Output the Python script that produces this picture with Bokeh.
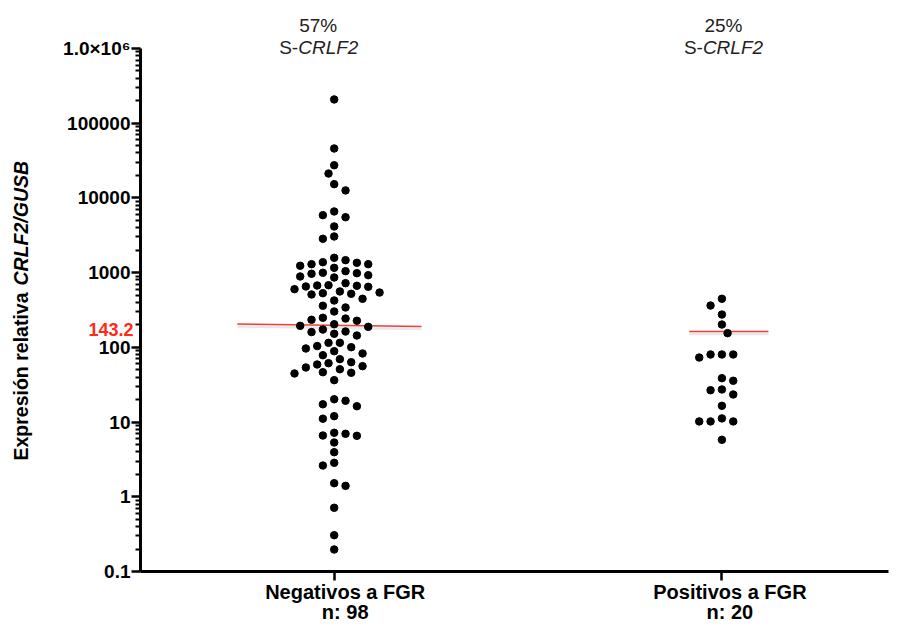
import numpy as np
from bokeh.plotting import figure
from bokeh.models import Range1d, FixedTicker, Label
from bokeh.embed import file_html
from bokeh.resources import INLINE

# ---------------- data ----------------
groups = ["Negativos a FGR", "Positivos a FGR"]
group_n = ["n: 98", "n: 20"]
group_pct = ["57%", "25%"]

neg_values = [
    208000, 45900, 27400, 21200, 15300, 12600, 6590, 5880, 5520, 4150, 3050, 2840,
    1580, 1470, 1380, 1355, 1298, 1298, 1236, 1161,
    1047, 996, 984, 966, 925, 889, 861,
    723, 679, 673, 667, 653, 647, 601,
    560, 542, 531, 521, 510,
    447, 424,
    360, 342, 302,
    249, 243, 234, 227, 204, 194, 188,
    173, 163, 160, 152, 144,
    115, 115, 104, 100.5, 96.6, 88.9, 82.8, 78.5,
    69.5, 63.3, 61.4, 59.0, 56.0, 53.8, 51.0,
    46.5, 45.7, 44.7, 36.4,
    20.2, 19.3, 17.3, 16.3,
    12.0, 11.1, 7.19, 6.97, 6.61, 6.55, 5.33, 3.95, 2.85, 2.62,
    1.52, 1.40, 0.713, 0.306, 0.197,
]
pos_values = [
    447, 363, 275, 202, 155,
    80.3, 80.3, 80.3, 73.1,
    38.7, 35.7, 27.3, 26.7, 23.4,
    16.5,
    11.2, 10.2, 10.2, 10.2,
    5.79,
]
median_start = [205, 163]
median_end = [190, 163]
median_label = "143.2"

y_ticks = [0.1, 1, 10, 100, 1000, 10000, 100000, 1000000]
y_tick_labels = ["0.1", "1", "10", "100", "1000", "10000", "100000", "1.0\u00d710\u2076"]

# ---------------- layout (canvas = frame; axes pinned with fixed_location) ----------------
W, H = 906, 624
AX_LEFT, AX_RIGHT = 140, 888      # pixel extents of the x axis line
AX_TOP, AX_BOTTOM = 48, 571       # pixel extents of the y axis line
CAT1_PX, PX_X = 333.7, 387.7      # pixel of category 1, pixels per category unit
Y_MIN, Y_MAX = 0.1, 1e6
PX_DEC = (AX_BOTTOM - AX_TOP) / (np.log10(Y_MAX) - np.log10(Y_MIN))
x_start = 1 - CAT1_PX / PX_X
x_end = x_start + W / PX_X
y_lo = 10 ** (np.log10(Y_MIN) - (H - AX_BOTTOM) / PX_DEC)
y_hi = 10 ** (np.log10(Y_MAX) + AX_TOP / PX_DEC)
x_axis_lo = x_start + AX_LEFT / PX_X
x_axis_hi = x_start + AX_RIGHT / PX_X
FONT = "Liberation Sans"


def swarm(vals, step=5.67, dist=9.5):
    ys = np.log10(np.asarray(vals, dtype=float)) * PX_DEC
    order = np.argsort(-ys)
    placed = []
    offs = np.zeros(len(ys))
    flip = False
    for i in order:
        k = 0
        done = False
        while not done:
            cands = [0] if k == 0 else ([k, -k] if flip else [-k, k])
            for c in cands:
                ox = c * step
                if all((ox - px) ** 2 + (ys[i] - py) ** 2 >= dist ** 2 for px, py in placed):
                    offs[i] = ox
                    placed.append((ox, ys[i]))
                    if c != 0:
                        flip = not flip
                    done = True
                    break
            k += 1
    return offs


p = figure(width=W, height=H, x_range=Range1d(x_start, x_end), y_range=Range1d(y_lo, y_hi),
           y_axis_type="log", output_backend="svg", toolbar_location=None,
           min_border_left=0, min_border_right=0, min_border_top=0, min_border_bottom=0)
p.title.visible = False
p.outline_line_color = None
p.xgrid.grid_line_color = None
p.ygrid.grid_line_color = None
p.background_fill_color = "white"

# y axis
minor = [m * 10.0 ** e for e in range(-1, 6) for m in range(2, 10)]
p.yaxis.fixed_location = x_axis_lo
p.yaxis.bounds = (Y_MIN, Y_MAX)
p.yaxis.ticker = FixedTicker(ticks=y_ticks, minor_ticks=minor)
p.yaxis.major_label_overrides = {float(t): l for t, l in zip(y_ticks, y_tick_labels)}
p.yaxis.axis_line_width = 3
p.yaxis.major_tick_line_width = 2.5
p.yaxis.major_tick_out = 9
p.yaxis.major_tick_in = 0
p.yaxis.minor_tick_out = 5
p.yaxis.minor_tick_in = 0
p.yaxis.minor_tick_line_width = 1.8
p.yaxis.major_label_standoff = 1
p.yaxis.major_label_text_font = FONT
p.yaxis.major_label_text_font_style = "bold"
p.yaxis.major_label_text_font_size = "19px"
p.yaxis.major_label_text_color = "black"

# x axis (category names drawn as labels below, slightly offset as in the original)
p.xaxis.fixed_location = Y_MIN
p.xaxis.bounds = (x_axis_lo, x_axis_hi)
p.xaxis.ticker = FixedTicker(ticks=[1, 2])
p.xaxis.major_label_overrides = {1: "", 2: ""}
p.xaxis.axis_line_width = 3
p.xaxis.major_tick_line_width = 2.5
p.xaxis.major_tick_out = 9
p.xaxis.major_tick_in = 0
p.xaxis.minor_tick_line_color = None

# median lines
x_lo = [1 - 0.25, 2 - 0.084]
x_hi = [1 + 0.225, 2 + 0.12]
shadow = 10 ** (-2.5 / PX_DEC)
p.segment(x0=x_lo, x1=x_hi, y0=[v * shadow for v in median_start], y1=[v * shadow for v in median_end],
          line_color="#d8d8d8", line_width=2.5, line_alpha=0.6)
p.segment(x0=x_lo, x1=x_hi, y0=median_start, y1=median_end, line_color="#f03c32", line_width=1.6)

# dots
for gi, vals in enumerate([neg_values, pos_values]):
    offs = swarm(vals)
    xs = (gi + 1) + offs / PX_X
    p.scatter(x=list(xs), y=vals, size=7.5, fill_color="black", line_color="black")

# y-axis title (mixed style), rotated
p.add_layout(Label(x=20, y=H - 460, x_units="screen", y_units="screen", angle=np.pi / 2,
                   text="Expresi\u00f3n relativa", text_align="left", text_baseline="middle",
                   text_font=FONT, text_font_style="bold", text_font_size="19.5px", text_color="black"))
p.add_layout(Label(x=20, y=H - 285, x_units="screen", y_units="screen", angle=np.pi / 2,
                   text="CRLF2/GUSB", text_align="left", text_baseline="middle",
                   text_font=FONT, text_font_style="bold italic", text_font_size="19.5px", text_color="black"))

# red median value next to the axis
p.add_layout(Label(x=133, y=143.2, x_units="screen", y_units="data", y_offset=6,
                   text=median_label, text_align="right", text_baseline="middle",
                   text_font=FONT, text_font_style="bold", text_font_size="18px", text_color="#ff2a1a"))

# top annotations
pct_dx = [-16, 1.6]
split_dx = [-36, -19]
for gi in range(2):
    p.add_layout(Label(x=gi + 1, x_offset=pct_dx[gi], y=H - 25, y_units="screen",
                       text=group_pct[gi], text_align="center", text_baseline="middle",
                       text_font=FONT, text_font_size="19px", text_color="#222222"))
    p.add_layout(Label(x=gi + 1, x_offset=split_dx[gi], y=H - 47, y_units="screen",
                       text="S-", text_align="right", text_baseline="middle",
                       text_font=FONT, text_font_size="19px", text_color="#222222"))
    p.add_layout(Label(x=gi + 1, x_offset=split_dx[gi], y=H - 47, y_units="screen",
                       text="CRLF2", text_align="left", text_baseline="middle",
                       text_font=FONT, text_font_style="italic", text_font_size="19px", text_color="#222222"))

# bottom category labels
cat_dx = [11, 8]
for gi in range(2):
    p.add_layout(Label(x=gi + 1, x_offset=cat_dx[gi], y=H - 591, y_units="screen",
                       text=groups[gi], text_align="center", text_baseline="middle",
                       text_font=FONT, text_font_style="bold", text_font_size="20px", text_color="black"))
    p.add_layout(Label(x=gi + 1, x_offset=cat_dx[gi], y=H - 611, y_units="screen",
                       text=group_n[gi], text_align="center", text_baseline="middle",
                       text_font=FONT, text_font_style="bold", text_font_size="20px", text_color="black"))

open("out.html", "w").write(file_html(p, INLINE))
